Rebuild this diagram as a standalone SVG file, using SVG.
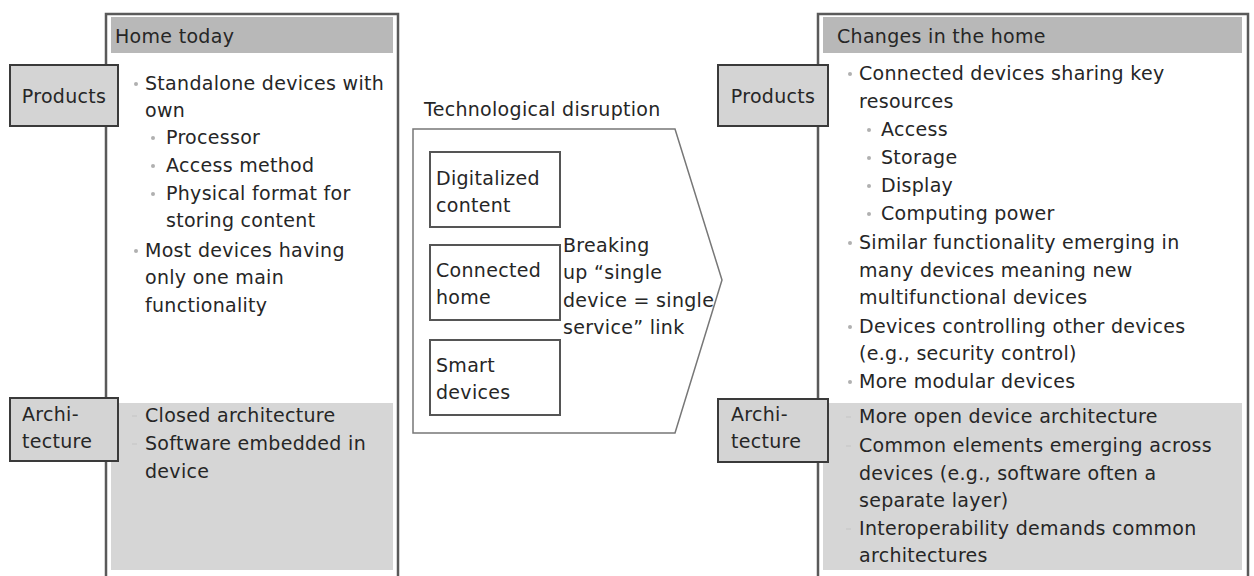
<svg xmlns="http://www.w3.org/2000/svg" width="1254" height="576" viewBox="0 0 1254 576">
<style>
text{font-family:"DejaVu Sans","Liberation Sans",sans-serif;font-size:19px;letter-spacing:0.3px;fill:#262626}
.panel{fill:#ffffff;stroke:#5a5a5a;stroke-width:2.5}
.hdr{fill:#b8b8b8}
.arch{fill:#d6d6d6}
.tag{fill:#d4d4d4;stroke:#3a3a3a;stroke-width:2}
.ibox{fill:#ffffff;stroke:#555;stroke-width:2}
.arrow{fill:#ffffff;stroke:#777;stroke-width:1.5}
.dot{fill:#b0b0b0}
.dash{stroke:#c4c4c4;stroke-width:1}
</style>
<rect width="1254" height="576" fill="#ffffff"/>

<g id="left-panel">
<rect class="panel" x="106" y="14" width="292" height="566"/>
<rect class="hdr" x="111" y="17" width="282" height="36"/>
<text x="115" y="43">Home today</text>
<rect class="arch" x="111" y="403" width="282" height="167"/>
<g id="left-products-list">
<circle class="dot" cx="136" cy="84" r="2"/>
<text x="145" y="90">Standalone devices with</text>
<text x="145" y="117">own</text>
<circle class="dot" cx="153" cy="138" r="2"/>
<text x="166" y="144">Processor</text>
<circle class="dot" cx="153" cy="166" r="2"/>
<text x="166" y="172">Access method</text>
<circle class="dot" cx="153" cy="194" r="2"/>
<text x="166" y="200">Physical format for</text>
<text x="166" y="227">storing content</text>
<circle class="dot" cx="136" cy="251" r="2"/>
<text x="145" y="257">Most devices having</text>
<text x="145" y="284">only one main</text>
<text x="145" y="312">functionality</text>
</g>
<g id="left-arch-list">
<line class="dash" x1="132" y1="416" x2="137" y2="416"/>
<text x="145" y="422">Closed architecture</text>
<line class="dash" x1="132" y1="444" x2="137" y2="444"/>
<text x="145" y="450">Software embedded in</text>
<text x="145" y="478">device</text>
</g>
</g>

<g id="left-products-tag">
<rect class="tag" x="10" y="65" width="108" height="61"/>
<text x="64" y="103" text-anchor="middle">Products</text>
</g>
<g id="left-arch-tag">
<rect class="tag" x="10" y="398" width="108" height="63"/>
<text x="22" y="421">Archi-</text>
<text x="22" y="448">tecture</text>
</g>

<g id="disruption">
<text x="424" y="116">Technological disruption</text>
<path class="arrow" d="M413,129 L675,129 L722,280 L675,433 L413,433 Z"/>
<g id="digitalized">
<rect class="ibox" x="430" y="152" width="130" height="75"/>
<text x="436" y="185">Digitalized</text>
<text x="436" y="212">content</text>
</g>
<g id="connected">
<rect class="ibox" x="430" y="245" width="130" height="75"/>
<text x="436" y="277">Connected</text>
<text x="436" y="304">home</text>
</g>
<g id="smart">
<rect class="ibox" x="430" y="340" width="130" height="75"/>
<text x="436" y="372">Smart</text>
<text x="436" y="399">devices</text>
</g>
<g id="breaking">
<text x="563" y="252">Breaking</text>
<text x="563" y="279">up “single</text>
<text x="563" y="307">device = single</text>
<text x="563" y="334">service” link</text>
</g>
</g>

<g id="right-panel">
<rect class="panel" x="818" y="14" width="430" height="566"/>
<rect class="hdr" x="823" y="17" width="419" height="36"/>
<text x="837" y="43">Changes in the home</text>
<rect class="arch" x="823" y="403" width="419" height="167"/>
<g id="right-products-list">
<circle class="dot" cx="850" cy="74" r="2"/>
<text x="859" y="80">Connected devices sharing key</text>
<text x="859" y="108">resources</text>
<circle class="dot" cx="869" cy="130" r="2"/>
<text x="881" y="136">Access</text>
<circle class="dot" cx="869" cy="158" r="2"/>
<text x="881" y="164">Storage</text>
<circle class="dot" cx="869" cy="186" r="2"/>
<text x="881" y="192">Display</text>
<circle class="dot" cx="869" cy="214" r="2"/>
<text x="881" y="220">Computing power</text>
<circle class="dot" cx="850" cy="243" r="2"/>
<text x="859" y="249">Similar functionality emerging in</text>
<text x="859" y="277">many devices meaning new</text>
<text x="859" y="304">multifunctional devices</text>
<circle class="dot" cx="850" cy="327" r="2"/>
<text x="859" y="333">Devices controlling other devices</text>
<text x="859" y="360">(e.g., security control)</text>
<circle class="dot" cx="850" cy="382" r="2"/>
<text x="859" y="388">More modular devices</text>
</g>
<g id="right-arch-list">
<line class="dash" x1="846" y1="417" x2="851" y2="417"/>
<text x="859" y="423">More open device architecture</text>
<line class="dash" x1="846" y1="446" x2="851" y2="446"/>
<text x="859" y="452">Common elements emerging across</text>
<text x="859" y="480">devices (e.g., software often a</text>
<text x="859" y="507">separate layer)</text>
<line class="dash" x1="846" y1="529" x2="851" y2="529"/>
<text x="859" y="535">Interoperability demands common</text>
<text x="859" y="562">architectures</text>
</g>
</g>

<g id="right-products-tag">
<rect class="tag" x="718" y="65" width="110" height="61"/>
<text x="773" y="103" text-anchor="middle">Products</text>
</g>
<g id="right-arch-tag">
<rect class="tag" x="718" y="399" width="110" height="63"/>
<text x="731" y="421">Archi-</text>
<text x="731" y="448">tecture</text>
</g>
</svg>
